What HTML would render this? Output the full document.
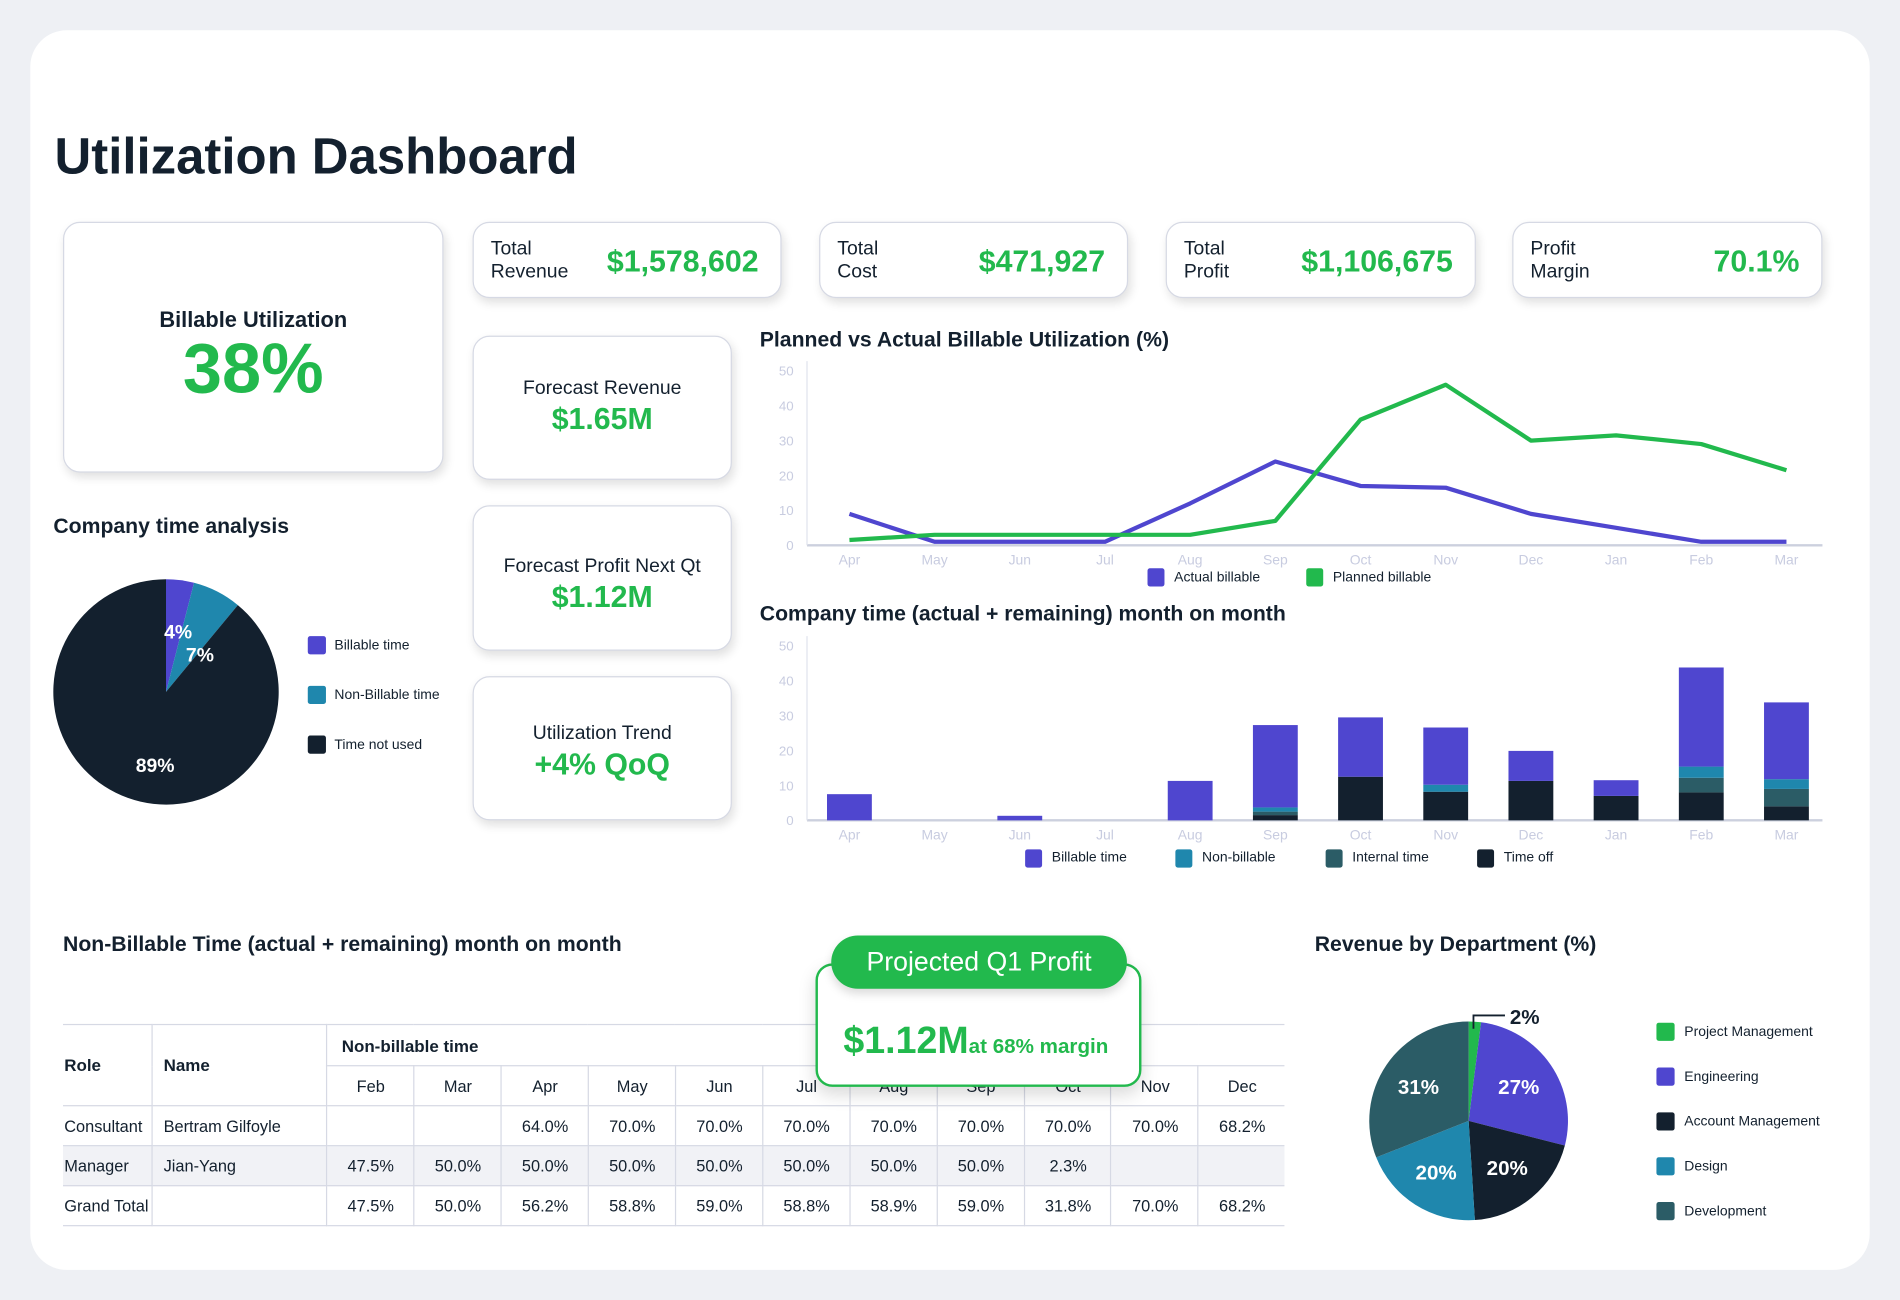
<!DOCTYPE html>
<html><head><meta charset="utf-8"><style>
body{margin:0;width:1900px;height:1300px;overflow:hidden;background:#eef0f4;font-family:"Liberation Sans","DejaVu Sans",sans-serif;color:#13202e}
#wrap{position:absolute;left:0;top:0;width:1568px;height:1073px;transform:scale(1.21173);transform-origin:0 0}
.card{position:absolute;background:#fff;border:1.5px solid #d6d9e4;border-radius:14px;box-shadow:2px 4px 8px rgba(0,0,0,.12);box-sizing:border-box}
.abs{position:absolute}
.kl{position:absolute;left:14px;top:12px;font-size:16px;line-height:19px}
.kv{position:absolute;right:18px;top:18px;font-size:25px;font-weight:bold;color:#22b94d}
.fc{text-align:center;font-size:16px}
.fc b{display:block;color:#22b94d;font-size:25px;margin-top:2px}
.h2{position:absolute;font-size:17.5px;font-weight:bold}
table{border-collapse:collapse;font-size:13.5px}
td{border:1.5px solid #d6d9e4;padding:0 0 0 1px;height:31px}
</style></head><body>
<div id="wrap">
<div class="abs" style="left:25px;top:25px;width:1518px;height:1023px;background:#fff;border-radius:30px"></div>
<div class="abs" style="left:45px;top:105px;font-size:42px;font-weight:bold">Utilization Dashboard</div>

<div class="card" style="left:52px;top:183px;width:314px;height:207px;text-align:center">
<div style="margin-top:70px;font-size:18px;font-weight:bold">Billable Utilization</div>
<div style="font-size:58px;font-weight:bold;color:#22b94d;line-height:60px">38%</div></div>

<div class="card" style="left:390px;top:183px;width:255px;height:63px"><div class="kl">Total<br>Revenue</div><div class="kv">$1,578,602</div></div>
<div class="card" style="left:676px;top:183px;width:255px;height:63px"><div class="kl">Total<br>Cost</div><div class="kv">$471,927</div></div>
<div class="card" style="left:962px;top:183px;width:256px;height:63px"><div class="kl">Total<br>Profit</div><div class="kv">$1,106,675</div></div>
<div class="card" style="left:1248px;top:183px;width:256px;height:63px"><div class="kl">Profit<br>Margin</div><div class="kv">70.1%</div></div>

<div class="card fc" style="left:390px;top:277px;width:214px;height:119px;padding-top:34px">Forecast Revenue<b>$1.65M</b></div>
<div class="card fc" style="left:390px;top:417px;width:214px;height:120px;padding-top:41px">Forecast Profit Next Qt<b>$1.12M</b></div>
<div class="card fc" style="left:390px;top:558px;width:214px;height:119px;padding-top:38px">Utilization Trend<b>+4% QoQ</b></div>

<div class="h2" style="left:44px;top:424px">Company time analysis</div>
<div class="h2" style="left:627px;top:270px">Planned vs Actual Billable Utilization (%)</div>
<div class="h2" style="left:627px;top:496px">Company time (actual + remaining) month on month</div>
<div class="h2" style="left:52px;top:769px">Non-Billable Time (actual + remaining) month on month</div>
<div class="h2" style="left:1085px;top:769px">Revenue by Department (%)</div>

<svg id="svg" class="abs" style="left:0;top:0" width="1568" height="1073" font-family="Liberation Sans, sans-serif"></svg>

<table class="abs" style="left:52px;top:845px;width:1008px;border-left:hidden;border-right:hidden">
<tr><td rowspan="2" style="width:72px;font-weight:bold;font-size:14px">Role</td><td rowspan="2" style="width:134px;font-weight:bold;padding-left:9px;font-size:14px">Name</td><td colspan="11" style="height:33px;padding-left:12px;font-weight:bold;font-size:14px">Non-billable time</td></tr>
<tr id="mh" style="height:33px"></tr>
<tr id="r1" style="height:33px"></tr><tr id="r2" style="background:#f1f2f6;height:33px"></tr><tr id="r3" style="height:33px"></tr>
</table>

<div class="card" style="left:673px;top:795px;width:269px;height:102px;border:2px solid #22b94d;box-shadow:0 6px 14px rgba(0,0,0,.15)">
<div style="position:absolute;left:21px;top:44px;color:#22b94d;font-weight:bold;font-size:31px;white-space:nowrap">$1.12M<span style="font-size:17px">at 68% margin</span></div></div>
<div class="abs" style="left:686px;top:772px;width:244px;height:44px;border-radius:22px;background:#22b94d;color:#fff;font-size:22px;text-align:center;line-height:44px;box-shadow:0 4px 8px rgba(0,0,0,.15)">Projected Q1 Profit</div>
</div>
<script>
const months=['Apr','May','Jun','Jul','Aug','Sep','Oct','Nov','Dec','Jan','Feb','Mar'];
const actualBillable=[9,1,1,1,12,24,17,16.5,9,5,1,1];
const plannedBillable=[1.5,3,3,3,3,7,36,46,30,31.5,29,21.5];
const timeOff=[0,0,0,0,0,1.5,12.5,8.2,11.3,7,8,4];
const internalTime=[0,0,0,0,0,1,0,0,0,0,4.2,5];
const nonBillable=[0,0,0,0,0,1.2,0,2,0,0,3.2,2.8];
const billableTime=[7.5,0,1.3,0,11.3,23.6,17,16.4,8.6,4.5,28.4,22];
const yTicks=[0,10,20,30,40,50];
const timeLabels=['Billable time','Non-Billable time','Time not used'];
const timeShares=[4,7,89];
const timeColors=['#4f46cf','#1f87ad','#13202e'];
const deptLabels=['Project Management','Engineering','Account Management','Design','Development'];
const deptShares=[2,27,20,20,31];
const deptColors=['#22b94d','#4f46cf','#13202e','#1f87ad','#2b5c66'];
const tblMonths=['Feb','Mar','Apr','May','Jun','Jul','Aug','Sep','Oct','Nov','Dec'];
const rowConsultant=['','','64.0%','70.0%','70.0%','70.0%','70.0%','70.0%','70.0%','70.0%','68.2%'];
const rowManager=['47.5%','50.0%','50.0%','50.0%','50.0%','50.0%','50.0%','50.0%','2.3%','',''];
const rowTotal=['47.5%','50.0%','56.2%','58.8%','59.0%','58.8%','58.9%','59.0%','31.8%','70.0%','68.2%'];

const svg=document.getElementById('svg');const NS='http://www.w3.org/2000/svg';
function el(t,a,p){const e=document.createElementNS(NS,t);for(const k in a)e.setAttribute(k,a[k]);(p||svg).appendChild(e);return e}
const xS=i=>701+i*70.3;
function axes(y0,y50,name){
 const g=el('g',{});
 el('line',{x1:666,x2:1504,y1:y0,y2:y0,stroke:'#ccd0de','stroke-width':2},g);
 el('line',{x1:666,x2:666,y1:y50-8,y2:y0,stroke:'#e0e3ec','stroke-width':1},g);
 yTicks.forEach(v=>{const t=el('text',{x:655,y:y0-(y0-y50)*v/50+4,'text-anchor':'end','font-size':11,fill:'#c8cce0'},g);t.textContent=v;});
 months.forEach((m,i)=>{const t=el('text',{x:xS(i),y:y0+16,'text-anchor':'middle','font-size':11.5,fill:'#c8cce0'},g);t.textContent=m;});
}
const lY=v=>450-v*144/50;
axes(450,306,'line-chart');
[[actualBillable,'#4f46cf','actual-billable-line'],[plannedBillable,'#22b94d','planned-billable-line']].forEach(([d,c,n])=>{
 const p=el('polyline',{points:d.map((v,i)=>xS(i)+','+lY(v)).join(' '),fill:'none',stroke:c,'stroke-width':3.5,'stroke-linejoin':'round'});
 
 });
[['Actual billable','#4f46cf',947],['Planned billable','#22b94d',1078]].forEach(([l,c,x])=>{
 const r=el('rect',{x:x,y:469,width:14,height:15,rx:2,fill:c});
 
 
 const t=el('text',{x:x+22,y:480,'font-size':11.5,fill:'#13202e'});t.textContent=l;});
const bY=v=>v*144/50;
axes(677,533,'bar-chart');
const series=[[timeOff,'#13202e'],[internalTime,'#2b5c66'],[nonBillable,'#1f87ad'],[billableTime,'#4f46cf']];
months.forEach((m,i)=>{let base=0;series.forEach(([d,c])=>{const h=bY(d[i]);if(h>0){
 const r=el('rect',{x:xS(i)-18.5,y:677-base-h,width:37,height:h,fill:c});
 
 }base+=h;});});
[['Billable time','#4f46cf',846],['Non-billable','#1f87ad',970],['Internal time','#2b5c66',1094],['Time off','#13202e',1219]].forEach(([l,c,x])=>{
 const r=el('rect',{x:x,y:701,width:14,height:15,rx:2,fill:c});
 
 
 const t=el('text',{x:x+22,y:711,'font-size':11.5,fill:'#13202e'});t.textContent=l;});
function pie(cx,cy,r,vals,cols,name){let a=-Math.PI/2;const tot=vals.reduce((s,v)=>s+v,0);const mids=[];
 vals.forEach((v,i)=>{const b=a+v/tot*2*Math.PI;const lg=b-a>Math.PI?1:0;
  const p=el('path',{d:`M${cx},${cy}L${cx+r*Math.cos(a)},${cy+r*Math.sin(a)}A${r},${r} 0 ${lg} 1 ${cx+r*Math.cos(b)},${cy+r*Math.sin(b)}Z`,fill:cols[i]});
  
  
  mids.push((a+b)/2);a=b;});return mids;}
const m1=pie(137,571,93,timeShares,timeColors,'time-pie');
[[147,527],[165,546],[128,637]].forEach((p,i)=>{const t=el('text',{x:p[0],y:p[1],'text-anchor':'middle','font-size':16,'font-weight':'bold',fill:'#fff'});t.textContent=timeShares[i]+'%';});
timeLabels.forEach((l,i)=>{const r=el('rect',{x:254,y:525+i*41,width:15,height:15,rx:2,fill:timeColors[i]});
 
 
 const t=el('text',{x:276,y:536+i*41,'font-size':11.5,fill:'#13202e'});t.textContent=l;});
const m2=pie(1212,925,82,deptShares,deptColors,'revenue-pie');
m2.forEach((a,i)=>{if(i===0)return;const t=el('text',{x:1212+50*Math.cos(a),y:925+50*Math.sin(a)+6,'text-anchor':'middle','font-size':17,'font-weight':'bold',fill:'#fff'});t.textContent=deptShares[i]+'%';});
el('polyline',{points:'1216,849 1216,838 1242,838',fill:'none',stroke:'#13202e','stroke-width':1.5});
const t2=el('text',{x:1246,y:845,'font-size':17,'font-weight':'bold',fill:'#13202e'});t2.textContent=deptShares[0]+'%';
deptLabels.forEach((l,i)=>{const r=el('rect',{x:1367,y:844+i*37,width:15,height:15,rx:2,fill:deptColors[i]});
 
 
 const t=el('text',{x:1390,y:855+i*37,'font-size':11.5,fill:'#13202e'});t.textContent=l;});
const mh=document.getElementById('mh');tblMonths.forEach(m=>{const td=document.createElement('td');td.textContent=m;td.style.textAlign='center';mh.appendChild(td);});
[['r1','Consultant','Bertram Gilfoyle',rowConsultant],['r2','Manager','Jian-Yang',rowManager],['r3','Grand Total','',rowTotal]].forEach(([id,a,b,vals])=>{
 const tr=document.getElementById(id);[a,b].forEach((v,k)=>{const td=document.createElement('td');td.textContent=v;if(k)td.style.paddingLeft='9px';tr.appendChild(td);});
 vals.forEach(v=>{const td=document.createElement('td');td.textContent=v;td.style.textAlign='center';tr.appendChild(td);});});
</script>
</body></html>
